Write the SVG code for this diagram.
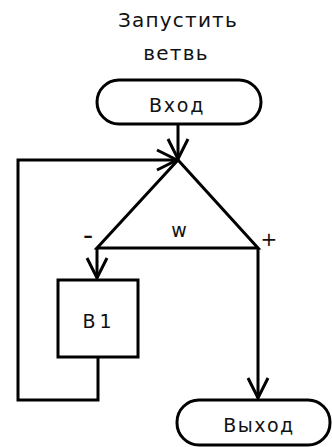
<svg xmlns="http://www.w3.org/2000/svg" width="332" height="447" viewBox="0 0 332 447">
<style>
.s{fill:#fff;stroke:#000;stroke-width:3}
.c{fill:none;stroke:#000;stroke-width:3}
.t{font-family:"DejaVu Sans",sans-serif;fill:#111;text-anchor:middle}
</style>
<defs>
<marker id="a" markerWidth="14" markerHeight="14" refX="12" refY="7" orient="auto" markerUnits="userSpaceOnUse" viewBox="0 0 14 14" overflow="visible">
<path d="M-8,-3 L12,7 L-8,17" fill="none" stroke="#000" stroke-width="3"/>
</marker>
</defs>
<rect width="332" height="447" fill="#fff"/>
<g id="title">
<text class="t" x="178" y="27" font-size="20" letter-spacing="1.2">Запустить</text>
<text class="t" x="176" y="60" font-size="20" letter-spacing="1.2">ветвь</text>
</g>
<g id="connectors">
<path class="c" d="M178,124 V159" marker-end="url(#a)"/>
<path class="c" d="M98,357 V400 H18 V160 H177" marker-end="url(#a)"/>
<path class="c" d="M97,248 V278" marker-end="url(#a)"/>
<path class="c" d="M258,248 V398" marker-end="url(#a)"/>
</g>
<g id="start">
<rect class="s" x="97" y="80" width="164" height="44" rx="22"/>
<text class="t" x="177" y="112" font-size="19" letter-spacing="1.8">Вход</text>
</g>
<g id="cond">
<polygon class="s" points="178,160 97,248 258,248"/>
<text class="t" x="179" y="237" font-size="19">w</text>
<text class="t" x="88" y="245" font-size="28">-</text>
<text class="t" x="269" y="246" font-size="20">+</text>
</g>
<g id="b1">
<rect class="s" x="58" y="280" width="80" height="77"/>
<text class="t" x="99" y="328" font-size="19" letter-spacing="4">B1</text>
</g>
<g id="end">
<rect class="s" x="177" y="400" width="153" height="45" rx="22"/>
<text class="t" x="259" y="432" font-size="19" letter-spacing="1.5">Выход</text>
</g>
</svg>
